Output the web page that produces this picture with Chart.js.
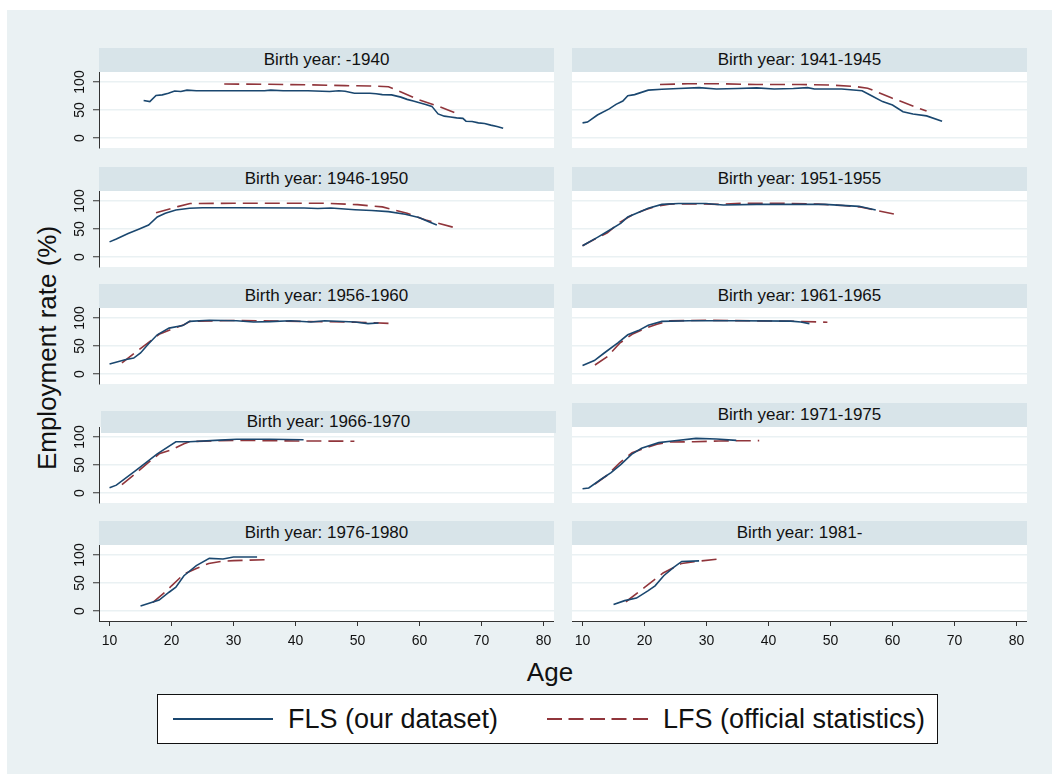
<!DOCTYPE html>
<html>
<head>
<meta charset="utf-8">
<script src="https://cdn.jsdelivr.net/npm/chart.js@4.4.0/dist/chart.umd.min.js"></script>
<style>
  body { margin: 0; width: 1052px; height: 774px; background: #fff; position: relative; overflow: hidden;
         font-family: "Liberation Sans", Arial, sans-serif; }
  #bg { position: absolute; left: 7px; top: 10px; right: 0; bottom: 0; background: #eaf1f3; }
  .plot { position: absolute; background: #fff; }
  .strip { position: absolute; background: #d8e4e9; color: #111; font-size: 17px; text-align: center; }
  canvas { position: absolute; }
  .ttl { position: absolute; color: #111; font-size: 26px; white-space: nowrap; }
  #legend { position: absolute; left: 157px; top: 694px; width: 779px; height: 48px; background: #fff; border: 1px solid #111; }
  .ltxt { position: absolute; top: 0; font-size: 27px; line-height: 48px; color: #111; white-space: nowrap; }
</style>
</head>
<body>
<div id="bg"></div>
<div class="ttl" id="ytitle" style="left:47px; top:348px; transform: translate(-50%, -50%) rotate(-90deg);">Employment rate (%)</div>
<div class="ttl" style="left:550px; top:672px; transform: translate(-50%, -50%);">Age</div>
<div id="legend">
  <svg style="position:absolute; left:0; top:0" width="779" height="48">
    <line x1="15" y1="24" x2="115" y2="24" stroke="#1a476f" stroke-width="2"/>
    <line x1="389" y1="24" x2="490" y2="24" stroke="#90353b" stroke-width="2" stroke-dasharray="15 6.5"/>
  </svg>
  <span class="ltxt" style="left:130px">FLS (our dataset)</span>
  <span class="ltxt" style="left:505px">LFS (official statistics)</span>
</div>

<script>
// panel titles (one per birth cohort)
const cohorts = ['Birth year: -1940', 'Birth year: 1941-1945', 'Birth year: 1946-1950', 'Birth year: 1951-1955',
                 'Birth year: 1956-1960', 'Birth year: 1961-1965', 'Birth year: 1966-1970', 'Birth year: 1971-1975',
                 'Birth year: 1976-1980', 'Birth year: 1981-'];

// [age, employment rate %]
const fls1940 = [[15.5,67],[16.5,65],[17.5,76],[18.5,77],[19.5,80],[20.5,84],[21.5,83],[22.5,85.5],[24,84.5],[28,84.5],[32,84.5],[35,84.5],[36,85.5],[38,84.5],[42,84.5],[45.5,83],[47,84.5],[48,83.5],[49.5,80],[52,80],[53,79],[54,77.5],[55.5,77],[57,73],[58,69],[59,66],[60,63],[61,60],[62,56.5],[63,43],[64,39],[65,37.5],[66,36],[67,35],[67.5,30],[68.5,29.5],[69.5,27],[70.5,26],[71.5,23],[72.5,20.5],[73.5,17.5]];
const lfs1940 = [[28.5,96.5],[35,96],[42,95],[48,93.5],[52,93],[55,91.5],[60,68],[63,57],[66,44]];

const fls1945 = [[10,27],[10.8,28.5],[12.4,41],[14.3,52],[15.4,60],[16.5,66],[17.3,75.5],[18.4,77.5],[20.6,85.5],[22.8,87],[25.5,88.5],[28.8,90],[31.6,87.5],[35,88.5],[38.1,89.5],[40.9,87.5],[44,88.5],[46.3,90],[47.4,87.5],[51.8,87.5],[55.1,84.5],[56.7,75],[58.4,65],[60,59],[61.7,47],[63.3,43],[65.5,39.5],[68,30]];
const lfs1945 = [[22.5,95.5],[27,97],[32,97],[38,95.5],[45,95.5],[50,94.5],[54,92],[56,89],[60,71],[65.5,48]];

const fls1950 = [[10,27],[11.1,32],[13,42],[14.7,49.5],[16.3,57],[17.7,71.5],[19,78],[20.7,84],[22.9,87],[25,88],[30.5,88],[41.4,87.5],[43.6,86.5],[45.7,87.5],[49.6,84.5],[52.3,83],[55,81],[57.7,76.5],[59.9,70.5],[61.6,62.5],[62.8,57]];
const lfs1950 = [[17.5,79],[21,90],[23,95.5],[30,96],[45,96],[50,93.5],[54,89.5],[58,78],[61,66],[66,51.5]];

const fls1955 = [[10,20],[12.4,35],[14,45.5],[16.2,60.5],[17.3,71.5],[20.6,87],[22.8,94],[25.5,95.5],[29.9,95.5],[32.7,93],[38.1,94],[49.1,94],[54.6,90.5],[57.3,84]];
const lfs1955 = [[10,20],[12,32],[14,43],[16,62],[18,75],[20,84],[22,91],[24,94.5],[28,95],[32,94],[36,96],[42,96],[48,94.5],[52,92],[55,89],[57.5,83],[60.5,76]];

const fls1960 = [[10,18],[12.5,25.5],[13.9,28.5],[15,37.5],[16.3,54],[17.7,70],[19.6,82],[21.8,86.5],[22.9,94],[26.1,96],[30.5,95],[33.2,93],[35.9,93.5],[39.2,95],[42.5,93],[44.7,95],[49.6,93],[51.7,90],[53.4,91]];
const lfs1960 = [[12,20],[14,37],[16,54],[18,71],[20,80],[22,88],[23,94],[30,95.5],[41,94],[50,92.5],[55,90.5]];

const fls1965 = [[10,15],[11.9,24],[13.5,37.5],[15.7,55.5],[17.3,70],[19,77.5],[20.6,87],[22.8,94],[27.2,95],[35,95],[43.6,94.5],[45.2,93],[46.6,90]];
const lfs1965 = [[12,16],[14,31],[16,55],[18,71],[20,81],[22,89],[24,95],[30,96],[38,95],[45,94],[49.5,92.5]];

const fls1970 = [[10,9.5],[11.1,14],[14.1,39],[16.3,58],[17.7,70],[20.7,91.5],[22.9,91.5],[27.8,94.5],[30.5,96],[35.9,96],[41.3,95]];
const lfs1970 = [[12,15],[14,33],[16,52],[18,70],[20,77],[22,88],[23,92],[30,94],[40,93],[49.5,92.5]];

const fls1975 = [[10,7.5],[11,9],[13,24.5],[14.6,36.5],[16.2,51],[17.9,69],[19.5,80],[22.3,90],[24.5,93],[28.3,97.5],[31.6,96.5],[34.8,94]];
const lfs1975 = [[12,16],[14,32],[16,54],[18,72],[20,80],[22,87],[24,91],[28,91.5],[32,93],[38.5,93.5]];

const fls1980 = [[15,9],[18,19.5],[19.6,33.5],[20.7,42.5],[22,63],[24,81],[26.1,94],[28.3,93],[30,96.5],[33.8,96.5]];
const lfs1980 = [[17,15.5],[19,34],[20,45],[22,66],[24,76],[26,85],[28,88.5],[30,90],[36,92]];

const fls1981 = [[15,11.5],[16.8,18.5],[18.7,23],[20.6,36.5],[21.7,45],[23.1,63],[24.7,78],[26,88.5],[28.8,89.5]];
const lfs1981 = [[17,16.5],[20,42],[23,68],[26,85],[28,88],[32,93]];

const flsSeries = [fls1940, fls1945, fls1950, fls1955, fls1960, fls1965, fls1970, fls1975, fls1980, fls1981];
const lfsSeries = [lfs1940, lfs1945, lfs1950, lfs1955, lfs1960, lfs1965, lfs1970, lfs1975, lfs1980, lfs1981];

const xTicks = [10, 20, 30, 40, 50, 60, 70, 80];
const yTicks = [0, 50, 100];

// layout of the 5x2 grid (plot areas)
const rowTop = [72, 191, 308, 427, 545];
const colLeft = [99, 572];
const plotW = 455, plotH = 76;
const pad = 6; // extra canvas room so rotated tick labels are not cut

const navy = '#1a476f', maroon = '#90353b', gridColor = '#eaf1f3', axisColor = '#333';
Chart.defaults.font.family = '"Liberation Sans", Arial, sans-serif';

function makePanel(i) {
    const col = i % 2, row = Math.floor(i / 2);
    const bottom = row === rowTop.length - 1;
    const yw = col === 0 ? 40 : 0; // room for y tick labels
    const xh = bottom ? 36 : 0;    // room for x tick labels
    const px = colLeft[col], py = rowTop[row];
    const padBottom = bottom ? 0 : pad;

    // white plot region
    const bgDiv = document.createElement('div');
    bgDiv.className = 'plot';
    Object.assign(bgDiv.style, { left: px + 'px', top: py + 'px', width: plotW + 'px', height: plotH + 'px' });
    document.body.appendChild(bgDiv);

    // title strip (the 1966-1970 one sits a bit lower in the original)
    const strip = document.createElement('div');
    strip.className = 'strip';
    let sx = px, sy = py - 24, sh = 24;
    if (i === 6) { sx = px + 2; sy = 411; sh = 22; }
    Object.assign(strip.style, { left: sx + 'px', top: sy + 'px', width: plotW + 'px', height: sh + 'px', lineHeight: sh + 'px' });
    strip.textContent = cohorts[i];
    document.body.appendChild(strip);

    const cv = document.createElement('canvas');
    cv.width = plotW + yw;
    cv.height = plotH + xh + pad + padBottom;
    cv.style.left = (px - yw) + 'px';
    cv.style.top = (py - pad) + 'px';
    document.body.appendChild(cv);

    new Chart(cv, {
        type: 'line',
        data: {
            datasets: [{
                label: 'FLS (our dataset)',
                data: flsSeries[i].map(p => ({ x: p[0], y: p[1] })),
                borderColor: navy, borderWidth: 1.6, pointRadius: 0, fill: false, tension: 0
            }, {
                label: 'LFS (official statistics)',
                data: lfsSeries[i].map(p => ({ x: p[0], y: p[1] })),
                borderColor: maroon, borderWidth: 1.6, borderDash: [15, 7], pointRadius: 0, fill: false, tension: 0
            }]
        },
        options: {
            responsive: false,
            animation: false,
            layout: { padding: { top: pad, bottom: padBottom, left: 0, right: 0 } },
            plugins: { legend: { display: false }, tooltip: { enabled: false } },
            scales: {
                x: {
                    type: 'linear', min: 8.3, max: 81.7, display: bottom,
                    afterBuildTicks: s => { s.ticks = xTicks.map(v => ({ value: v })); },
                    afterFit: s => { s.height = xh; s.paddingLeft = 0; s.paddingRight = 0; },
                    border: { display: true, color: axisColor, width: 1 },
                    grid: { drawOnChartArea: false, tickLength: 5, tickColor: axisColor, tickWidth: 1 },
                    ticks: { font: { size: 14 }, color: '#111', padding: 7, maxRotation: 0, autoSkip: false }
                },
                y: {
                    type: 'linear', min: -17.9, max: 117.9,
                    afterBuildTicks: s => { s.ticks = yTicks.map(v => ({ value: v })); },
                    afterFit: s => { s.width = yw; s.paddingTop = 0; s.paddingBottom = 0; },
                    border: { display: col === 0, color: axisColor, width: 1 },
                    grid: { color: gridColor, lineWidth: 1.5, drawTicks: col === 0, tickLength: 6, tickColor: axisColor, tickWidth: 1 },
                    ticks: { display: col === 0, minRotation: 90, maxRotation: 90, crossAlign: 'center', padding: 1,
                             autoSkip: false, font: { size: 14 }, color: '#111' }
                }
            }
        }
    });
}

for (let i = 0; i < cohorts.length; i++) makePanel(i);
</script>
</body>
</html>
